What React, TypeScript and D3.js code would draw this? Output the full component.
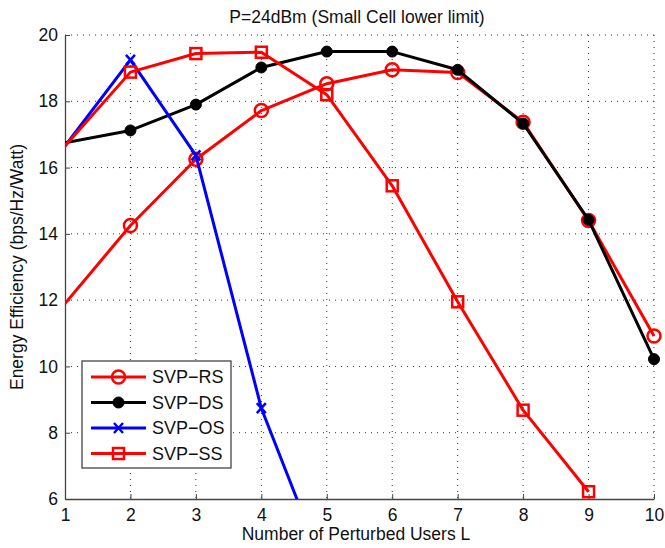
import React, { useRef, useEffect } from 'react';
import * as d3 from 'd3';

// number of perturbed users
const users = [1, 2, 3, 4, 5, 6, 7, 8, 9, 10];
const svpRS = [11.9, 14.25, 16.25, 17.72, 18.53, 18.95, 18.87, 17.37, 14.4, 10.92];
const svpDS = [16.75, 17.12, 17.9, 19.02, 19.5, 19.5, 18.95, 17.33, 14.42, 10.22];
const svpOS = [16.65, 19.25, 16.37, 8.74, 3.7];
const svpSS = [16.65, 18.88, 19.44, 19.48, 18.2, 15.45, 11.95, 8.68, 6.22];
const yTicks = [6, 8, 10, 12, 14, 16, 18, 20];
const seriesNames = ['SVP\u2212RS', 'SVP\u2212DS', 'SVP\u2212OS', 'SVP\u2212SS'];

const FONT = 'Liberation Sans, Arial, sans-serif';

const App = () => {
    const chartRef = useRef(null);

    useEffect(() => {
        const svg = d3.select(chartRef.current);
        svg.selectAll('*').remove();

        const left = 65, right = 654, top = 35, bottom = 499;

        const xScale = d3.scaleLinear().domain([1, 10]).range([left, right]);
        const yScale = d3.scaleLinear().domain([6, 20]).range([bottom, top]);

        // grid (dotted)
        const grid = svg.append('g');
        users.forEach((u) => {
            if (u === 1) return;
            grid.append('line')
                .attr('x1', xScale(u)).attr('x2', xScale(u))
                .attr('y1', top).attr('y2', bottom)
                .attr('stroke', '#333').attr('stroke-width', 1)
                .attr('stroke-dasharray', '1,5');
        });
        yTicks.forEach((t) => {
            if (t === 6) return;
            grid.append('line')
                .attr('x1', left).attr('x2', right)
                .attr('y1', yScale(t)).attr('y2', yScale(t))
                .attr('stroke', '#333').attr('stroke-width', 1)
                .attr('stroke-dasharray', '1,5');
        });

        // axes: MATLAB style, ticks inward, no box
        const xAxis = d3.axisBottom(xScale).tickValues(users).tickSizeInner(-5).tickSizeOuter(0).tickPadding(10);
        const yAxis = d3.axisLeft(yScale).tickValues(yTicks).tickSizeInner(-5).tickSizeOuter(0).tickPadding(7);

        const gx = svg.append('g').attr('transform', `translate(0,${bottom})`).call(xAxis);
        const gy = svg.append('g').attr('transform', `translate(${left},0)`).call(yAxis);
        [gx, gy].forEach((g) => {
            g.select('.domain').attr('stroke', '#444').attr('stroke-width', 1.3);
            g.selectAll('.tick line').attr('stroke', '#444').attr('stroke-width', 1);
            g.selectAll('.tick text').attr('font-family', FONT).attr('font-size', 17.5).attr('fill', '#111');
        });

        // markers stay inside the axes on the left edge, as in the original
        svg.append('clipPath').attr('id', 'plot-clip')
            .append('rect').attr('x', left).attr('y', top - 10)
            .attr('width', right - left + 10).attr('height', bottom - top + 10);

        const plot = svg.append('g').attr('clip-path', 'url(#plot-clip)');

        const line = d3.line()
            .x((d) => xScale(d[0]))
            .y((d) => yScale(d[1]));

        const series = [
            { values: svpRS, color: '#ff0000', marker: 'circle' },
            { values: svpDS, color: '#000000', marker: 'dot' },
            { values: svpOS, color: '#0000ff', marker: 'x' },
            { values: svpSS, color: '#ff0000', marker: 'square' },
        ];

        const drawMarker = (g, kind, cx, cy, color) => {
            if (kind === 'circle') {
                g.append('circle').attr('cx', cx).attr('cy', cy).attr('r', 6.5)
                    .attr('fill', 'none').attr('stroke', color).attr('stroke-width', 2.5);
            } else if (kind === 'dot') {
                g.append('circle').attr('cx', cx).attr('cy', cy).attr('r', 5.5)
                    .attr('fill', color).attr('stroke', color).attr('stroke-width', 1);
            } else if (kind === 'square') {
                g.append('rect').attr('x', cx - 5.5).attr('y', cy - 5.5)
                    .attr('width', 11).attr('height', 11)
                    .attr('fill', 'none').attr('stroke', color).attr('stroke-width', 2.5);
            } else {
                g.append('path')
                    .attr('d', `M${cx - 4.5},${cy - 5}L${cx + 4.5},${cy + 5}M${cx - 4.5},${cy + 5}L${cx + 4.5},${cy - 5}`)
                    .attr('stroke', color).attr('stroke-width', 2.5).attr('fill', 'none');
            }
        };

        series.forEach((s) => {
            const pts = s.values.map((v, i) => [users[i], v]);
            plot.append('path')
                .datum(pts)
                .attr('d', line)
                .attr('fill', 'none')
                .attr('stroke', s.color)
                .attr('stroke-width', 3)
                .attr('stroke-linejoin', 'round');
            pts.forEach((p) => {
                if (p[1] < 6 || p[0] === 1) return;
                drawMarker(plot, s.marker, xScale(p[0]), yScale(p[1]), s.color);
            });
        });

        // legend
        const legend = svg.append('g');
        legend.append('rect')
            .attr('x', 82).attr('y', 361).attr('width', 149).attr('height', 107)
            .attr('fill', '#fff').attr('stroke', '#444').attr('stroke-width', 1.3);
        series.forEach((s, i) => {
            const ly = 377 + i * 25.5;
            legend.append('line')
                .attr('x1', 91).attr('x2', 146).attr('y1', ly).attr('y2', ly)
                .attr('stroke', s.color).attr('stroke-width', 3);
            drawMarker(legend, s.marker, 118.5, ly, s.color);
            legend.append('text')
                .attr('x', 152).attr('y', ly).attr('dy', '0.36em')
                .attr('font-family', FONT).attr('font-size', 18).attr('fill', '#111')
                .text(seriesNames[i]);
        });

        // title and labels
        svg.append('text')
            .attr('x', 357).attr('y', 22.5)
            .attr('text-anchor', 'middle')
            .attr('font-family', FONT).attr('font-size', 17.5).attr('fill', '#111')
            .text('P=24dBm (Small Cell lower limit)');

        svg.append('text')
            .attr('x', 356).attr('y', 540)
            .attr('text-anchor', 'middle')
            .attr('font-family', FONT).attr('font-size', 17.5).attr('fill', '#111')
            .text('Number of Perturbed Users L');

        svg.append('text')
            .attr('transform', `translate(23,${(top + bottom) / 2}) rotate(-90)`)
            .attr('text-anchor', 'middle')
            .attr('font-family', FONT).attr('font-size', 17.5).attr('fill', '#111')
            .text('Energy Efficiency (bps/Hz/Watt)');
    }, []);

    return (
        <svg
            ref={chartRef}
            width={665}
            height={548}
            style={{ position: 'absolute', left: 0, top: 0, background: '#fff' }}
        ></svg>
    );
};

export default App;
